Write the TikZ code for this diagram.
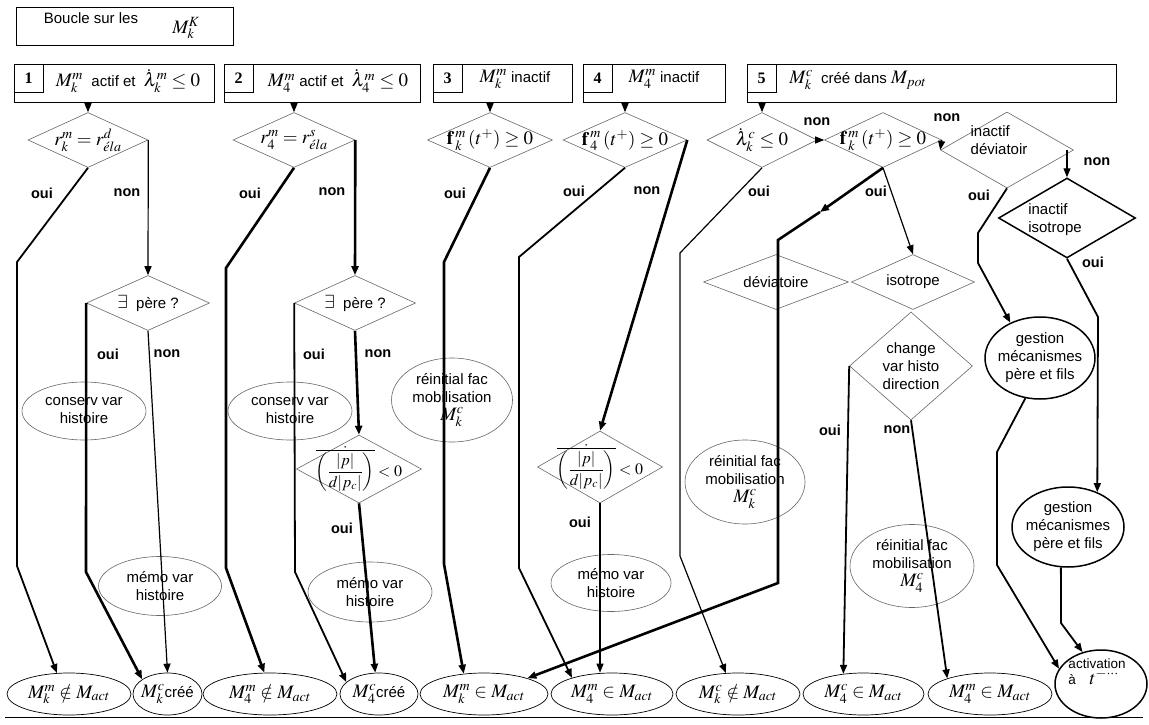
\documentclass[tikz,border=0pt]{standalone}
\usepackage{mathptmx}
\usepackage{fontspec}
\setmainfont{Liberation Sans}
\newfontfamily\numfont{Liberation Serif}
\usetikzlibrary{shapes.geometric, arrows.meta}

\newcommand{\eqm}[1]{{\fontsize{19}{22}\selectfont$#1$}}

\tikzset{
  every node/.style={font=\fontsize{15}{18}\selectfont, inner sep=0pt, align=center},
  arr/.style={-{Triangle[length=9pt,width=7pt]}},
  ln1/.style={line width=1.2pt},
  ln2/.style={line width=1.8pt},
  ln3/.style={line width=2.6pt},
  hbox/.style={draw, line width=0.8pt, minimum height=38pt},
  numbox/.style={draw, line width=0.8pt, minimum width=29pt, minimum height=28pt, anchor=north west, font=\numfont\bfseries\fontsize{16}{18}\selectfont},
  tst/.style={diamond, draw=black!60, line width=0.6pt},
  inf/.style={ellipse, draw=black!60, line width=0.6pt},
  fin/.style={ellipse, draw, line width=0.7pt, minimum height=42pt},
  gest/.style={ellipse, draw, line width=1.5pt},
  lab/.style={font=\fontsize{14.5}{16}\selectfont\bfseries},
}

\begin{document}
\begin{tikzpicture}[x=1pt, y=-1pt]
\useasboundingbox (0,0) rectangle (1149,725);

% boucle
\node[hbox, minimum width=217pt] (boucle) at (124.5,26) {};
\node (boucletxt) at (91,18) {Boucle sur les};
\node (bouclem) at (186,28) {\eqm{M_k^K}};

% en-tetes
\node[hbox, minimum width=200pt] (h1) at (114,83) {};
\node[numbox] (n1) at (h1.north west) {1};
\node (t1) at (128,81) {\eqm{M_k^m} \ actif et \ \eqm{\dot\lambda_k^m \leq 0}};
\node[hbox, minimum width=196pt] (h2) at (322,83) {};
\node[numbox] (n2) at (h2.north west) {2};
\node (t2) at (338,81) {\eqm{M_4^m} actif et \ \eqm{\dot\lambda_4^m \leq 0}};
\node[hbox, minimum width=139pt] (h3) at (502.5,83) {};
\node[numbox] (n3) at (h3.north west) {3};
\node (t3) at (515,79) {\eqm{M_k^m} inactif};
\node[hbox, minimum width=142pt] (h4) at (654,83) {};
\node[numbox] (n4) at (h4.north west) {4};
\node (t4) at (664,79) {\eqm{M_4^m} inactif};
\node[hbox, minimum width=369pt] (h5) at (931.5,83) {};
\node[numbox] (n5) at (h5.north west) {5};
\node (t5) at (858,80) {\eqm{M_k^c} \ créé dans \eqm{M_{pot}}};

% tests
\node[tst, minimum width=120pt, minimum height=55pt, label={center:{\eqm{r_k^m = r_{\acute{e}la}^d}}}] (d1) at (88,140) {};
\node[tst, minimum width=122pt, minimum height=55pt, label={center:{\eqm{r_4^m = r_{\acute{e}la}^s}}}] (d2) at (294,140) {};
\node[tst, minimum width=125pt, minimum height=55pt, label={center:{\eqm{{\mathbf{f}\mkern2mu}_k^m\left(t^+\right) \geq 0}}}] (d3) at (490,140) {};
\node[tst, minimum width=124pt, minimum height=55pt, label={center:{\eqm{{\mathbf{f}\mkern2mu}_4^m\left(t^+\right) \geq 0}}}] (d4) at (625,140) {};
\node[tst, minimum width=110pt, minimum height=55pt, label={center:{\eqm{\dot\lambda_k^c \leq 0}}}] (d5a) at (762,140) {};
\node[tst, minimum width=117pt, minimum height=55pt, label={center:{\eqm{{\mathbf{f}\mkern2mu}_k^m\left(t^+\right) \geq 0}}}] (d5b) at (883,140) {};
\node[tst, minimum width=133pt, minimum height=76pt, label={[align=left, xshift=-8pt, yshift=10pt]center:{inactif\\déviatoir}}] (d5c) at (1007,150) {};
\node[diamond, draw, line width=1.5pt, minimum width=137pt, minimum height=80pt, label={[align=left, xshift=-12pt, yshift=-2pt]center:{inactif\\isotrope}}] (d5d) at (1067,218) {};

\node[tst, minimum width=123pt, minimum height=55pt, label={center:{\eqm{\exists} \ père ?}}] (p1) at (148,303) {};
\node[tst, minimum width=121pt, minimum height=55pt, label={center:{\eqm{\exists} \ père ?}}] (p2) at (355,303) {};
\node[tst, minimum width=125pt, minimum height=68pt, label={center:{{\fontsize{16}{18}\selectfont$\displaystyle\dot{\overline{\left(\frac{|p|}{d|p_c|}\right)}} < 0$}}}] (pc2) at (359,469) {};
\node[tst, minimum width=125pt, minimum height=72pt, label={center:{{\fontsize{16}{18}\selectfont$\displaystyle\dot{\overline{\left(\frac{|p|}{d|p_c|}\right)}} < 0$}}}] (pc4) at (600,467) {};

\node[tst, minimum width=145pt, minimum height=55pt, label={center:{déviatoire}}] (dev) at (776,282) {};
\node[tst, minimum width=123pt, minimum height=55pt, label={center:{isotrope}}] (iso) at (913,282) {};
\node[tst, minimum width=123pt, minimum height=108pt, label={center:{change\\var histo\\direction}}] (chg) at (911,366) {};

% ellipses
\node[inf, minimum width=124pt, minimum height=58pt, label={center:{conserv var\\histoire}}] (cons1) at (84,411) {};
\node[inf, minimum width=124pt, minimum height=58pt, label={center:{conserv var\\histoire}}] (cons2) at (290,411) {};
\node[inf, minimum width=123pt, minimum height=59pt, label={center:{mémo var\\histoire}}] (memo1) at (160,586) {};
\node[inf, minimum width=124pt, minimum height=60pt, label={center:{mémo var\\histoire}}] (memo2) at (370,592) {};
\node[inf, minimum width=120pt, minimum height=57pt, label={center:{mémo var\\histoire}}] (memo4) at (611,583) {};
\node[inf, minimum width=121pt, minimum height=84pt, label={center:{réinitial fac\\mobilisation\\\eqm{M_k^c}}}] (reinit3) at (452,400) {};
\node[inf, minimum width=120pt, minimum height=84pt, label={center:{réinitial fac\\mobilisation\\\eqm{M_k^c}}}] (reinit5) at (745,482) {};
\node[inf, minimum width=124pt, minimum height=83pt, label={center:{réinitial fac\\mobilisation\\\eqm{M_4^c}}}] (reinit8) at (912,566) {};
\node[gest, minimum width=110pt, minimum height=82pt, label={center:{gestion\\mécanismes\\père et fils}}] (gest1) at (1040,358) {};
\node[gest, minimum width=112pt, minimum height=80pt, label={center:{gestion\\mécanismes\\père et fils}}] (gest2) at (1068,527) {};

% etats finaux
\node[fin, minimum width=124pt, label={center:{\eqm{M_k^m \notin M_{act}}}}] (e1) at (69,694) {};
\node[fin, minimum width=69pt, label={center:{\eqm{M_k^c}créé}}] (e2) at (167.5,694) {};
\node[fin, minimum width=134pt, label={center:{\eqm{M_4^m \notin M_{act}}}}] (e3) at (270,694) {};
\node[fin, minimum width=78pt, label={center:{\eqm{M_4^c}créé}}] (e4) at (379,694) {};
\node[fin, minimum width=128pt, label={center:{\eqm{M_k^m \in M_{act}}}}] (e5) at (484,694) {};
\node[fin, minimum width=122pt, label={center:{\eqm{M_4^m \in M_{act}}}}] (e6) at (612,694) {};
\node[fin, minimum width=124pt, label={center:{\eqm{M_k^c \notin M_{act}}}}] (e7) at (738,694) {};
\node[fin, minimum width=121pt, label={center:{\eqm{M_4^c \in M_{act}}}}] (e8) at (863.5,694) {};
\node[fin, minimum width=124pt, label={center:{\eqm{M_4^m \in M_{act}}}}] (e9) at (990,694) {};
\node[gest, minimum width=92pt, minimum height=68pt, label={[align=left, xshift=-4pt, yshift=12pt, font=\fontsize{13.5}{16}\selectfont]center:{activation\\à\quad \eqm{t^{-\cdots}}}}] (e10) at (1101,684) {};
\draw[line width=1pt] (5,717) -- (1143,717);

% oui / non
\node[lab] (o1) at (42,193) {oui};
\node[lab] (no1) at (127,193) {non};
\node[lab] (o2) at (250,193) {oui};
\node[lab] (no2) at (332,192) {non};
\node[lab] (o3) at (455,193) {oui};
\node[lab] (o4) at (574,191) {oui};
\node[lab] (no4) at (647,191) {non};
\node[lab] (o5a) at (759,191) {oui};
\node[lab] (o5b) at (876,191) {oui};
\node[lab] (o5c) at (979,195) {oui};
\node[lab] (no5a) at (817,122) {non};
\node[lab] (no5b) at (947,118) {non};
\node[lab] (no5c) at (1097,162) {non};
\node[lab] (o5d) at (1093,262) {oui};
\node[lab] (op1) at (108,354) {oui};
\node[lab] (nop1) at (167,354) {non};
\node[lab] (op2) at (314,354) {oui};
\node[lab] (nop2) at (378,354) {non};
\node[lab] (opc2) at (342,528) {oui};
\node[lab] (opc4) at (580,522) {oui};
\node[lab] (ochg) at (830,430) {oui};
\node[lab] (nochg) at (897,430) {non};

% 1
\draw[ln1, arr] (d1.north |- h1.south) -- (d1.north);
\draw[ln2, arr] (d1.south) -- (17,262) -- (17,566) -- (e1.120);
\draw[ln1, arr] (d1.east) -- (p1.north);
\draw[ln3, arr] (p1.west) -- (86,572) -- (e2.150);
\draw[ln1, arr] (p1.south) -- (e2.north);
% 2
\draw[ln1, arr] (d2.north |- h2.south) -- (d2.north);
\draw[ln3, arr] (d2.south) -- (226,268) -- (226,568) -- (e3.105);
\draw[ln3, arr] (d2.east) -- (p2.north);
\draw[ln2, arr] (p2.west) -- (295,572) -- (e4.160);
\draw[ln3, arr] (p2.south) -- (pc2.north);
\draw[ln3, arr] (pc2.south) -- (e4.100);
% 3
\draw[ln1, arr] (d3.north |- h3.south) -- (d3.north);
\draw[ln3, arr] (d3.south) -- (444,262) -- (444,564) -- (e5.135);
% 4
\draw[ln1, arr] (d4.north |- h4.south) -- (d4.north);
\draw[ln2, arr] (d4.south) -- (519,257) -- (519,568) -- (e6.158);
\draw[ln3, arr] (d4.east) -- (pc4.north);
\draw[ln1, arr] (pc4.south) -- (pc4.south |- e6.north);
% 5
\draw[ln1, arr] (d5a.north |- h5.south) -- (d5a.north);
\draw[ln1, arr] (d5a.east) -- (d5b.west);
\draw[ln1, arr] (d5a.south) -- (680,253) -- (680,556) -- (e7.120);
\coordinate (m5b) at (820,212);
\draw[ln3, arr] (d5b.south) -- (m5b);
\draw[ln3, arr] (m5b) -- (778,240) -- (778,583) -- (e5.20);
\draw[ln1, arr] (d5b.south) -- (iso.north);
\draw[ln1, arr] (d5b.east) -- (d5c.west);
\draw[ln1, arr] (d5d.north |- d5c.east) -- (d5d.north);
\draw[ln2, arr] (d5c.south) -- (978,233) -- (978,263) -- (gest1.130);
\draw[ln2, arr] (chg.west) -- (e8.135);
\draw[ln2, arr] (chg.south) -- (e9.160);
\draw[ln2, arr] (gest1.250) -- (997,452) -- (997,565) -- (e10.160);
\draw[ln2, arr] (d5d.south) -- (1098,317) -- (gest2.50);
\draw[ln2, arr] (gest2.260) -- (1061,623) -- (e10.120);
\end{tikzpicture}
\end{document}
